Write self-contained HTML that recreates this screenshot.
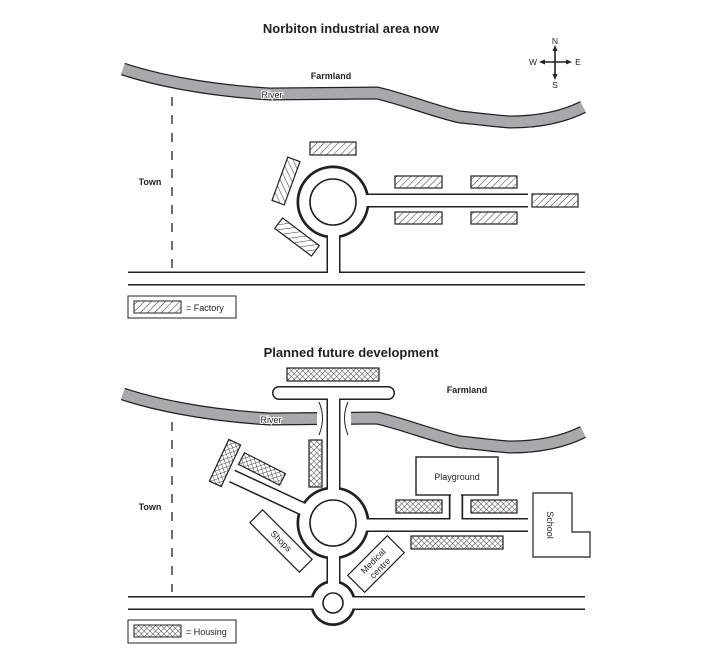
<!DOCTYPE html>
<html><head><meta charset="utf-8"><style>
html,body{margin:0;padding:0;background:#fff;}
svg{display:block;}
text{font-family:"Liberation Sans",Arial,sans-serif;fill:#231f20;}
</style></head><body>
<svg width="702" height="654" viewBox="0 0 702 654" xmlns="http://www.w3.org/2000/svg">
<defs>
<pattern id="hatch" width="5" height="5" patternUnits="userSpaceOnUse" patternTransform="rotate(45)">
<rect width="5" height="5" fill="#fff"/><line x1="0" y1="0" x2="0" y2="5" stroke="#333" stroke-width="1"/>
</pattern>
<pattern id="cross" width="4" height="4" patternUnits="userSpaceOnUse" patternTransform="rotate(45)">
<rect width="4" height="4" fill="#fff"/><line x1="0" y1="0" x2="0" y2="4" stroke="#333" stroke-width="0.9"/><line x1="0" y1="0" x2="4" y2="0" stroke="#333" stroke-width="0.9"/>
</pattern>
<path id="river" d="M123 69 C150 78 200 90 270 94 L377 93 C400 98 440 113 460 117 C480 119 495 121 510 122 C540 122 565 116 583 107"/>
</defs>

<!-- ===== TOP MAP ===== -->
<text x="351" y="33" font-size="13" font-weight="bold" text-anchor="middle">Norbiton industrial area now</text>
<!-- compass -->
<g stroke="#231f20" stroke-width="1.6" fill="#231f20">
<line x1="555" y1="48" x2="555" y2="77"/><line x1="542" y1="62" x2="569" y2="62"/>
<polygon points="555,45 552.5,51 557.5,51" stroke="none"/>
<polygon points="555,80 552.5,74 557.5,74" stroke="none"/>
<polygon points="539,62 545,59.5 545,64.5" stroke="none"/>
<polygon points="572,62 566,59.5 566,64.5" stroke="none"/>
</g>
<text x="555" y="44" font-size="8.5" text-anchor="middle">N</text>
<text x="555" y="88" font-size="8.5" text-anchor="middle">S</text>
<text x="533" y="65" font-size="8.5" text-anchor="middle">W</text>
<text x="578" y="65" font-size="8.5" text-anchor="middle">E</text>

<use href="#river" stroke="#231f20" stroke-width="13" fill="none"/>
<use href="#river" stroke="#a7a9ac" stroke-width="10.5" fill="none"/>
<text x="331" y="79" font-size="9" font-weight="bold" text-anchor="middle">Farmland</text>
<text x="272" y="98" font-size="9" text-anchor="middle" stroke="#fff" stroke-width="2" paint-order="stroke">River</text>

<line x1="172" y1="97" x2="172" y2="268" stroke="#231f20" stroke-width="1.3" stroke-dasharray="9,9"/>
<text x="150" y="185" font-size="9" font-weight="bold" text-anchor="middle">Town</text>

<!-- roads top -->
<g fill="none" stroke="#231f20" stroke-width="14">
<line x1="128" y1="278.5" x2="585" y2="278.5"/>
<line x1="333.5" y1="202" x2="333.5" y2="278.5"/>
<line x1="333" y1="200.5" x2="528" y2="200.5"/>
</g>
<circle cx="333" cy="202" r="36.5" fill="#231f20"/>
<g fill="none" stroke="#fff" stroke-width="11">
<line x1="120" y1="278.5" x2="590" y2="278.5"/>
<line x1="333.5" y1="202" x2="333.5" y2="278.5"/>
<line x1="333" y1="200.5" x2="528.6" y2="200.5"/>
</g>
<circle cx="333" cy="202" r="33.8" fill="#fff"/>
<circle cx="333" cy="202" r="23" fill="#fff" stroke="#231f20" stroke-width="1.6"/>

<!-- factories -->
<g fill="url(#hatch)" stroke="#231f20" stroke-width="1.2">
<rect x="310" y="142" width="46" height="13"/>
<rect x="395" y="176" width="47" height="12"/>
<rect x="471" y="176" width="46" height="12"/>
<rect x="395" y="212" width="47" height="12"/>
<rect x="471" y="212" width="46" height="12"/>
<rect x="532" y="194" width="46" height="13"/>
<rect x="-23" y="-6.5" width="46" height="13" transform="translate(286,181) rotate(-70)"/>
<rect x="-23" y="-6.5" width="46" height="13" transform="translate(297,237) rotate(37)"/>
</g>
<rect x="128" y="296" width="108" height="22" fill="#fff" stroke="#231f20" stroke-width="1"/>
<rect x="134" y="301" width="47" height="12" fill="url(#hatch)" stroke="#231f20" stroke-width="1"/>
<text x="186" y="311" font-size="9">= Factory</text>

<!-- ===== BOTTOM MAP ===== -->
<text x="351" y="357" font-size="13" font-weight="bold" text-anchor="middle">Planned future development</text>
<g transform="translate(0,325)">
<use href="#river" stroke="#231f20" stroke-width="13" fill="none"/>
<use href="#river" stroke="#a7a9ac" stroke-width="10.5" fill="none"/>
</g>
<text x="467" y="393" font-size="9" font-weight="bold" text-anchor="middle">Farmland</text>
<text x="271" y="423" font-size="9" text-anchor="middle" stroke="#fff" stroke-width="2" paint-order="stroke">River</text>

<line x1="172" y1="422" x2="172" y2="592" stroke="#231f20" stroke-width="1.3" stroke-dasharray="9,9"/>
<text x="150" y="510" font-size="9" font-weight="bold" text-anchor="middle">Town</text>

<!-- roads bottom -->
<rect x="317" y="400" width="34" height="34" fill="#fff"/>
<g fill="none" stroke="#231f20" stroke-width="14">
<line x1="128" y1="603" x2="585" y2="603"/>
<line x1="333.5" y1="393" x2="333.5" y2="603"/>
<line x1="279" y1="393" x2="388" y2="393" stroke-linecap="round"/>
<line x1="333" y1="523" x2="232" y2="476"/>
<line x1="333" y1="525" x2="528" y2="525"/>
<line x1="456" y1="490" x2="456" y2="525"/>
</g>
<circle cx="333" cy="523" r="36.5" fill="#231f20"/>
<circle cx="333" cy="603" r="23" fill="#231f20"/>
<g fill="none" stroke="#fff" stroke-width="11">
<line x1="120" y1="603" x2="590" y2="603"/>
<line x1="333.5" y1="393" x2="333.5" y2="603"/>
<line x1="279" y1="393" x2="388" y2="393" stroke-linecap="round"/>
<line x1="333" y1="523" x2="231.2" y2="475.6"/>
<line x1="333" y1="525" x2="528.6" y2="525"/>
<line x1="456" y1="490" x2="456" y2="525"/>
</g>
<circle cx="333" cy="523" r="33.8" fill="#fff"/>
<circle cx="333" cy="603" r="20.3" fill="#fff"/>
<circle cx="333" cy="523" r="23" fill="#fff" stroke="#231f20" stroke-width="1.6"/>
<circle cx="333" cy="603" r="10" fill="#fff" stroke="#231f20" stroke-width="1.6"/>
<!-- bridge marks -->
<g fill="none" stroke="#231f20" stroke-width="1">
<path d="M319 402 Q326 418 319 435"/>
<path d="M348 402 Q341 418 348 435"/>
</g>

<!-- playground & school -->
<rect x="416" y="457" width="82" height="38" fill="#fff" stroke="#231f20" stroke-width="1.4"/>
<rect x="451" y="490" width="10" height="8" fill="#fff"/>
<line x1="449.5" y1="494.5" x2="449.5" y2="518" stroke="#231f20" stroke-width="1.4"/>
<line x1="462.5" y1="494.5" x2="462.5" y2="518" stroke="#231f20" stroke-width="1.4"/>
<text x="457" y="480" font-size="9" text-anchor="middle">Playground</text>
<polygon points="533,493 572,493 572,532 590,532 590,557 533,557" fill="#fff" stroke="#231f20" stroke-width="1.2"/>
<text x="0" y="0" font-size="9" text-anchor="middle" transform="translate(547,525) rotate(90)">School</text>

<!-- housing -->
<g fill="url(#cross)" stroke="#231f20" stroke-width="1.2">
<rect x="287" y="368" width="92" height="13"/>
<rect x="309" y="440" width="13" height="47"/>
<rect x="396" y="500" width="46" height="13"/>
<rect x="471" y="500" width="46" height="13"/>
<rect x="411" y="536" width="92" height="13"/>
<rect x="-23" y="-6.5" width="46" height="13" transform="translate(225,463) rotate(-65)"/>
<rect x="-23" y="-6.5" width="46" height="13" transform="translate(262,469) rotate(27)"/>
</g>
<!-- shops & medical -->
<g transform="translate(281,541) rotate(45)">
<rect x="-35" y="-9" width="70" height="18" fill="#fff" stroke="#231f20" stroke-width="1.2"/>
<text x="0" y="3" font-size="9" text-anchor="middle" fill="#5a3a1a">Shops</text>
</g>
<g transform="translate(376,564) rotate(-45)">
<rect x="-28" y="-12" width="56" height="24" fill="#fff" stroke="#231f20" stroke-width="1.2"/>
<text x="0" y="-1" font-size="9" text-anchor="middle" fill="#5a3a1a">Medical</text>
<text x="0" y="9" font-size="9" text-anchor="middle" fill="#5a3a1a">centre</text>
</g>

<rect x="128" y="620" width="108" height="23" fill="#fff" stroke="#231f20" stroke-width="1"/>
<rect x="134" y="625" width="47" height="12" fill="url(#cross)" stroke="#231f20" stroke-width="1"/>
<text x="186" y="635" font-size="9">= Housing</text>
</svg>
</body></html>
